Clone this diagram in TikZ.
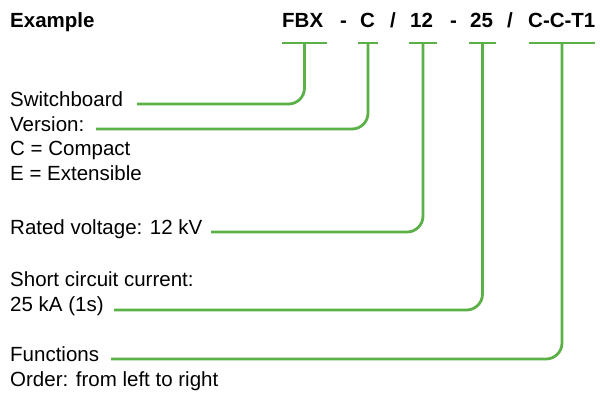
\documentclass[tikz,border=0pt]{standalone}
\usepackage{fontspec}
\setmainfont{Liberation Sans}
\usetikzlibrary{calc}
\definecolor{lgreen}{RGB}{92,176,72}
\begin{document}
\begin{tikzpicture}[x=1pt,y=-1pt,
  txt/.style={anchor=base west, inner sep=0pt, font=\fontsize{20.5}{25}\selectfont},
  hdr/.style={anchor=base west, inner sep=0pt, font=\fontsize{20.5}{25}\selectfont\bfseries},
  bar/.style={draw=lgreen, line width=2.8pt},
  conn/.style={draw=lgreen, line width=2.8pt, rounded corners=16pt}]
\useasboundingbox (0,0) rectangle (600,392);
% header
\node[hdr] (ex) at (10,27) {Example};
\node[hdr] (fbx) at (282,27) {FBX};
\node[hdr] (d1) at (340,27) {-};
\node[hdr] (vc) at (360,27) {C};
\node[hdr] (s1) at (390,27) {/};
\node[hdr] (v12) at (410,27) {12};
\node[hdr] (d2) at (450,27) {-};
\node[hdr] (v25) at (470,27) {25};
\node[hdr] (s2) at (507,27) {/};
\node[hdr] (cct) at (528,27) {C-C-T1};
% bars
\coordinate (fbxL) at (282,43); \coordinate (fbxR) at (327,43);
\coordinate (vcL) at (358,43); \coordinate (vcR) at (378,43);
\coordinate (v12L) at (409,43); \coordinate (v12R) at (437,43);
\coordinate (v25L) at (469,43); \coordinate (v25R) at (496,43);
\coordinate (cctL) at (529,43); \coordinate (cctR) at (595,43);
\foreach \b in {fbx,vc,v12,v25,cct}{
  \draw[bar] (\b L) -- (\b R);
  \coordinate (\b M) at ($(\b L)!0.5!(\b R)$);
}
% labels
\node[txt] (sw) at (10,106) {Switchboard};
\node[txt] (ver) at (10,131) {Version:};
\node[txt] (cmp) at (10,155) {C = Compact};
\node[txt] (ext) at (10,180) {E = Extensible};
\node[txt] (rv) at (10,234) {Rated voltage: 12 kV};
\node[txt] (sc) at (10,286) {Short circuit current:};
\node[txt] (ka) at (10,311) {25 kA (1s)};
\node[txt] (fn) at (10,361) {Functions};
\node[txt] (ord) at (10,386) {Order: from left to right};
% line starts
\coordinate (swE) at (137,104);
\coordinate (verE) at (96,129);
\coordinate (rvE) at (211,232);
\coordinate (kaE) at (114,310);
\coordinate (fnE) at (111,359);
% connectors
\draw[conn] (fbxM) |- (swE);
\draw[conn] (vcM) |- (verE);
\draw[conn] (v12M) |- (rvE);
\draw[conn] (v25M) |- (kaE);
\draw[conn] (cctM) |- (fnE);
\end{tikzpicture}
\end{document}
